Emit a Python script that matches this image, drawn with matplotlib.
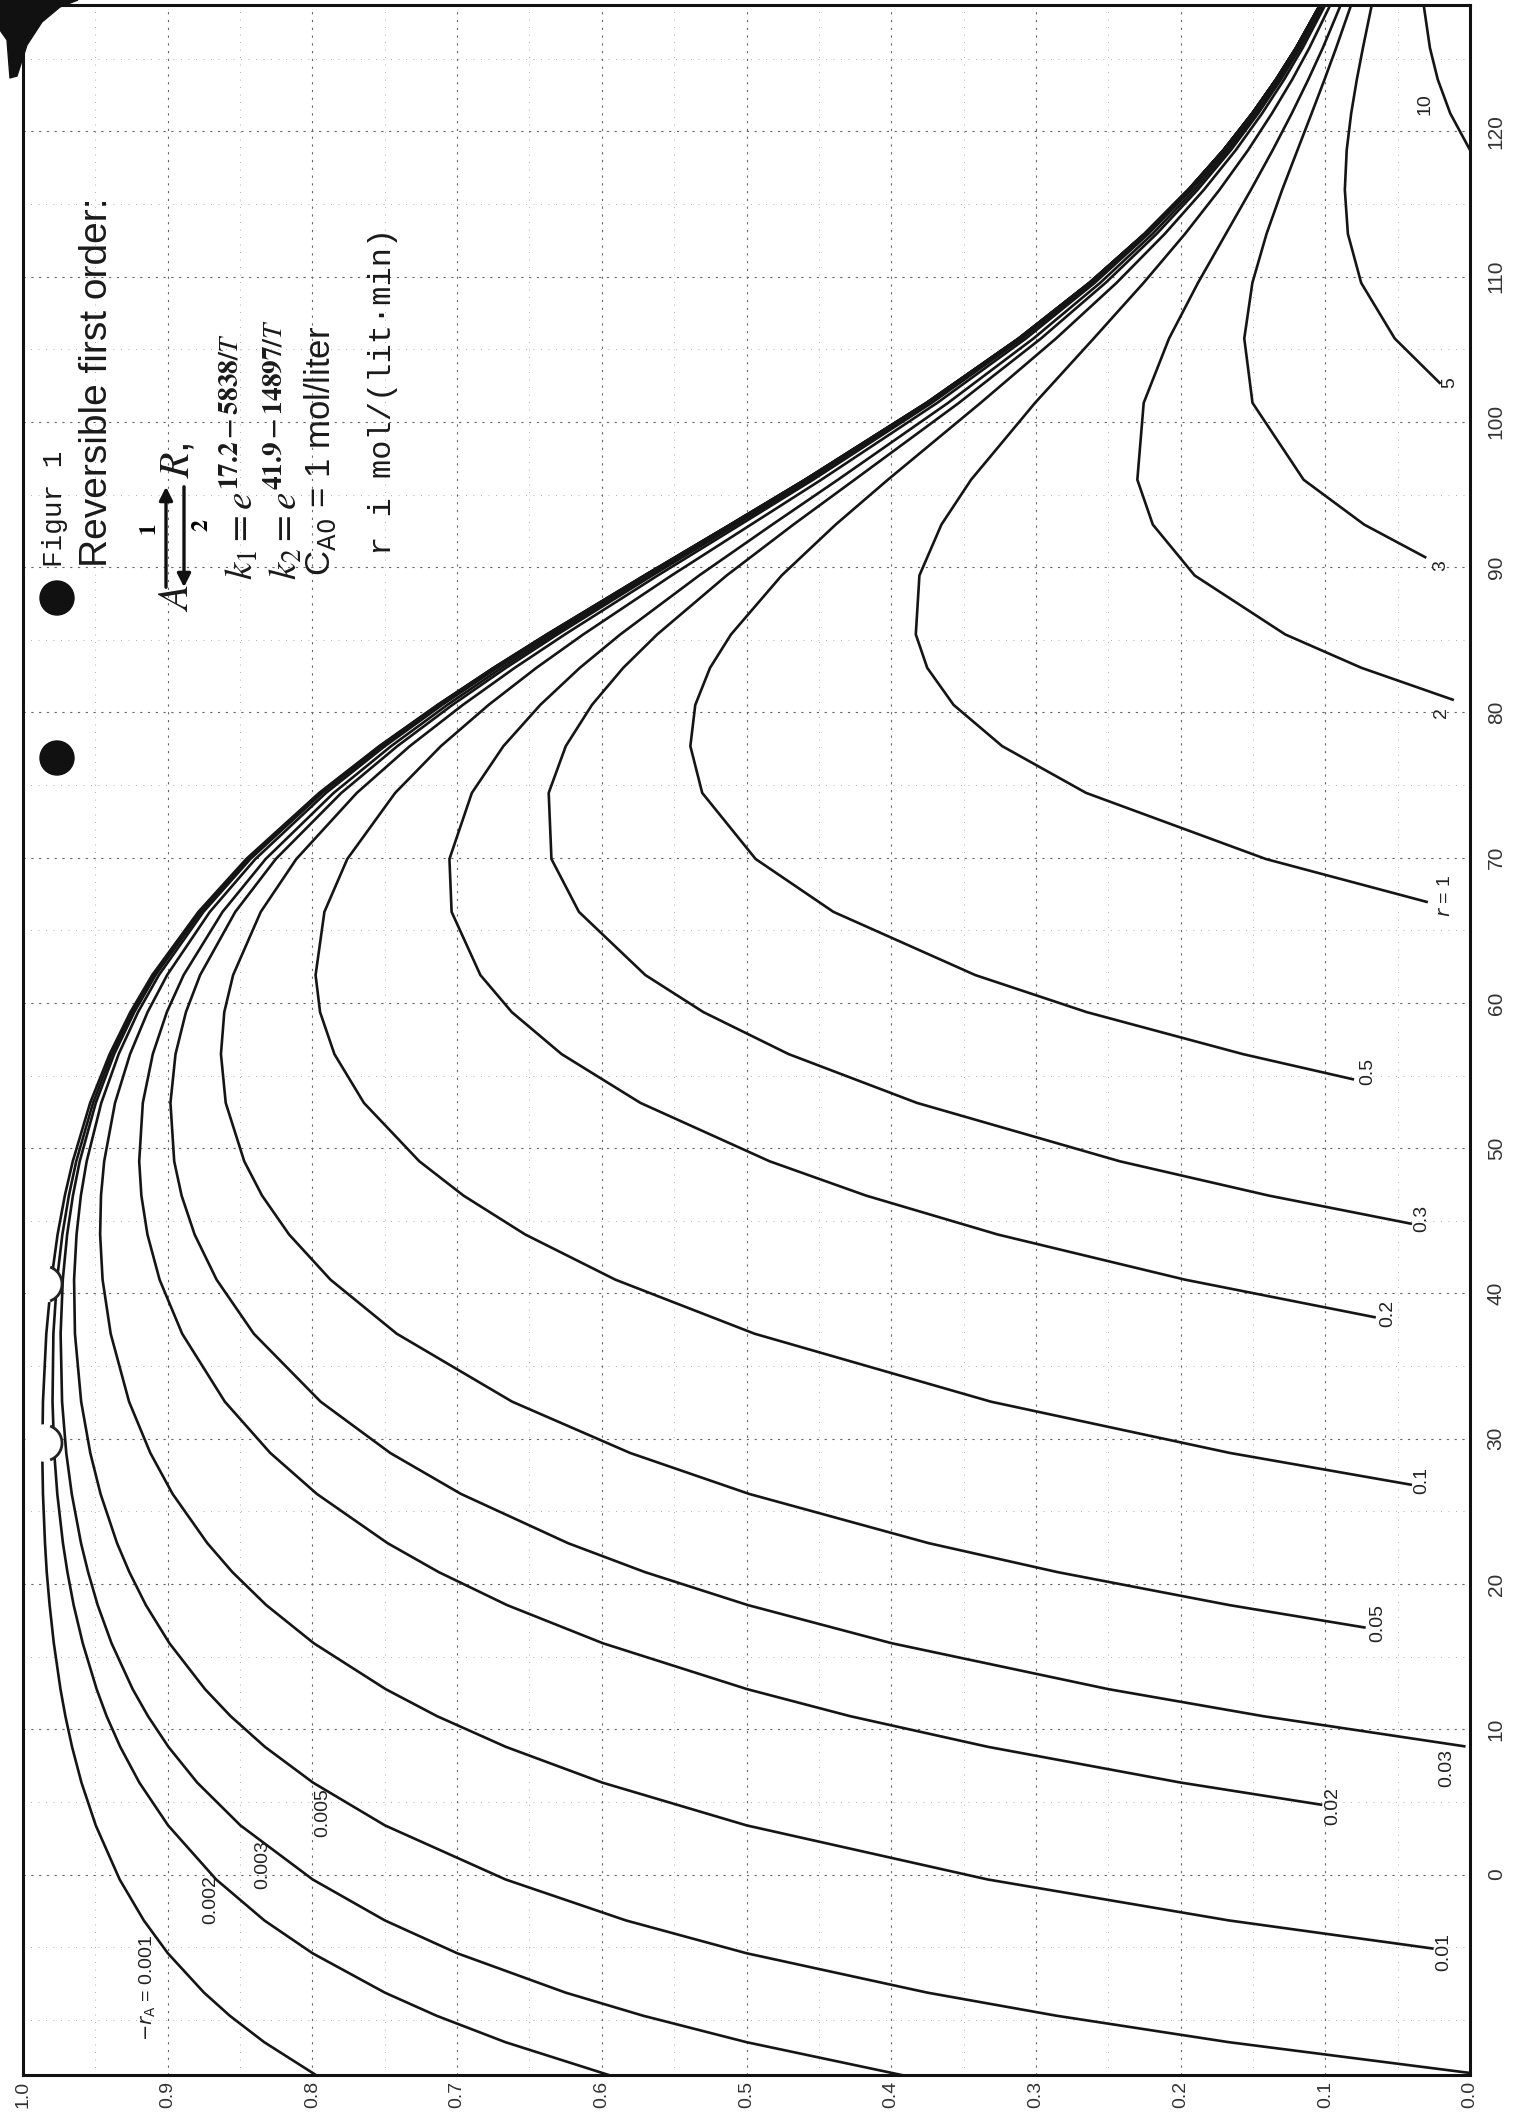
import matplotlib
matplotlib.use("Agg")
import matplotlib.pyplot as plt
from matplotlib.patches import Circle, Polygon, Arc, FancyArrowPatch
from matplotlib.transforms import IdentityTransform

plt.rcParams["font.family"] = ["Liberation Sans", "DejaVu Sans"]
plt.rcParams["mathtext.fontset"] = "stix"

W, H = 1519, 2118

# temperature (deg C) at which the curves were read
temp_grid = [-13.80, -11.54, -9.72, -8.13, -5.42, -3.16, -0.34, 3.38, 6.33, 8.79,
             10.90, 12.76, 15.92, 18.55, 20.82, 22.81, 26.20, 29.02, 32.55, 37.23,
             40.95, 44.06, 46.74, 49.10, 53.12, 56.48, 59.37, 61.92, 66.27, 69.91,
             74.46, 77.68, 80.52, 83.07, 85.37, 89.43, 92.93, 96.02, 101.31, 105.74,
             109.57, 112.95, 115.98, 118.72, 121.25, 123.58, 125.75, 128.69]

# conversion X_A along each -r_A curve (values for the last len(list) temperatures)
conv_0001 = [0.7976, 0.8333, 0.8571, 0.8749, 0.8999, 0.9165, 0.9332, 0.9497, 0.9596, 0.9661,
             0.9707, 0.9741, 0.9787, 0.9816, 0.9836, 0.9848, 0.9862, 0.9867, 0.9862, 0.9839,
             0.9804, 0.9761, 0.9711, 0.9656, 0.9536, 0.9401, 0.9258, 0.9107, 0.8788, 0.8457,
             0.7953, 0.7538, 0.7135, 0.6749, 0.6381, 0.5706, 0.5113, 0.4596, 0.3757, 0.3120,
             0.2631, 0.2249, 0.1947, 0.1703, 0.1504, 0.1340, 0.1202, 0.1037]
conv_0002 = [0.5952, 0.6666, 0.7142, 0.7499, 0.7999, 0.8332, 0.8665, 0.8997, 0.9196, 0.9328,
             0.9422, 0.9491, 0.9587, 0.9650, 0.9693, 0.9724, 0.9763, 0.9784, 0.9796, 0.9790,
             0.9765, 0.9728, 0.9683, 0.9632, 0.9516, 0.9386, 0.9245, 0.9095, 0.8779, 0.8450,
             0.7948, 0.7534, 0.7132, 0.6746, 0.6378, 0.5704, 0.5112, 0.4595, 0.3756, 0.3120,
             0.2631, 0.2249, 0.1947, 0.1703, 0.1504, 0.1340, 0.1202, 0.1037]
conv_0003 = [0.3928, 0.5000, 0.5714, 0.6250, 0.6999, 0.7499, 0.7998, 0.8497, 0.8796, 0.8995,
             0.9136, 0.9242, 0.9388, 0.9484, 0.9550, 0.9599, 0.9663, 0.9701, 0.9730, 0.9740,
             0.9725, 0.9695, 0.9655, 0.9608, 0.9497, 0.9370, 0.9231, 0.9084, 0.8771, 0.8443,
             0.7943, 0.7530, 0.7128, 0.6743, 0.6375, 0.5702, 0.5110, 0.4594, 0.3755, 0.3119,
             0.2630, 0.2249, 0.1946, 0.1703, 0.1504, 0.1340, 0.1202, 0.1037]
conv_0005 = [0.1667, 0.2857, 0.3750, 0.4999, 0.5833, 0.6665, 0.7498, 0.7996, 0.8328, 0.8565,
             0.8742, 0.8988, 0.9151, 0.9265, 0.9350, 0.9464, 0.9535, 0.9598, 0.9641, 0.9647,
             0.9630, 0.9600, 0.9560, 0.9459, 0.9339, 0.9205, 0.9061, 0.8753, 0.8429, 0.7932,
             0.7521, 0.7121, 0.6737, 0.6370, 0.5698, 0.5107, 0.4592, 0.3754, 0.3118, 0.2630,
             0.2248, 0.1946, 0.1702, 0.1504, 0.1339, 0.1202, 0.1037]
conv_001 = [0.1666, 0.3333, 0.4998, 0.5997, 0.6663, 0.7138, 0.7493, 0.7990, 0.8319, 0.8553,
            0.8726, 0.8966, 0.9120, 0.9267, 0.9394, 0.9450, 0.9467, 0.9461, 0.9439, 0.9364,
            0.9260, 0.9139, 0.9004, 0.8709, 0.8394, 0.7906, 0.7499, 0.7103, 0.6722, 0.6358,
            0.5689, 0.5100, 0.4586, 0.3750, 0.3116, 0.2628, 0.2247, 0.1945, 0.1702, 0.1503,
            0.1339, 0.1201, 0.1037]
conv_002 = [0.1999, 0.3331, 0.4283, 0.4995, 0.5992, 0.6655, 0.7127, 0.7480, 0.7969, 0.8291,
            0.8605, 0.8900, 0.9056, 0.9140, 0.9182, 0.9197, 0.9172, 0.9103, 0.9006, 0.8890,
            0.8621, 0.8323, 0.7853, 0.7456, 0.7067, 0.6692, 0.6332, 0.5670, 0.5085, 0.4574,
            0.3743, 0.3110, 0.2624, 0.2244, 0.1943, 0.1700, 0.1502, 0.1338, 0.1200, 0.1036]
conv_003 = [0.1428, 0.2498, 0.3995, 0.4991, 0.5702, 0.6233, 0.6973, 0.7462, 0.7943, 0.8405,
            0.8662, 0.8814, 0.8904, 0.8955, 0.8981, 0.8946, 0.8874, 0.8776, 0.8533, 0.8253,
            0.7800, 0.7413, 0.7032, 0.6662, 0.6307, 0.5651, 0.5071, 0.4563, 0.3735, 0.3105,
            0.2620, 0.2241, 0.1941, 0.1698, 0.1500, 0.1337, 0.1199, 0.1035]
conv_005 = [0.1664, 0.2851, 0.3740, 0.4981, 0.5804, 0.6619, 0.7417, 0.7875, 0.8161, 0.8348,
            0.8471, 0.8599, 0.8632, 0.8609, 0.8548, 0.8357, 0.8111, 0.7693, 0.7327, 0.6960,
            0.6602, 0.6255, 0.5613, 0.5042, 0.4540, 0.3720, 0.3095, 0.2613, 0.2236, 0.1936,
            0.1695, 0.1498, 0.1334, 0.1198, 0.1034]
conv_01 = [0.1658, 0.3310, 0.4944, 0.5906, 0.6529, 0.6956, 0.7261, 0.7644, 0.7848, 0.7947,
           0.7978, 0.7917, 0.7759, 0.7428, 0.7112, 0.6782, 0.6452, 0.6128, 0.5518, 0.4969,
           0.4483, 0.3682, 0.3069, 0.2594, 0.2222, 0.1926, 0.1686, 0.1491, 0.1329, 0.1193,
           0.1030]
conv_02 = [0.1969, 0.3264, 0.4174, 0.4840, 0.5733, 0.6278, 0.6622, 0.6839, 0.7038, 0.7053,
           0.6898, 0.6680, 0.6425, 0.6152, 0.5872, 0.5327, 0.4822, 0.4368, 0.3607, 0.3017,
           0.2556, 0.2193, 0.1904, 0.1669, 0.1477, 0.1318, 0.1184, 0.1023]
conv_03 = [0.1391, 0.2420, 0.3822, 0.4709, 0.5298, 0.5699, 0.6158, 0.6348, 0.6367, 0.6249,
           0.6068, 0.5852, 0.5617, 0.5137, 0.4676, 0.4253, 0.3532, 0.2965, 0.2519, 0.2165,
           0.1882, 0.1652, 0.1463, 0.1306, 0.1174, 0.1016]
conv_05 = [0.1570, 0.2649, 0.3419, 0.4399, 0.4937, 0.5306, 0.5388, 0.5354, 0.5252, 0.5107,
           0.4757, 0.4384, 0.4023, 0.3382, 0.2861, 0.2443, 0.2109, 0.1839, 0.1618, 0.1436,
           0.1284, 0.1156, 0.1001]
conv_1 = [0.1411, 0.2653, 0.3233, 0.3569, 0.3751, 0.3830, 0.3805, 0.3653, 0.3448, 0.3006,
          0.2601, 0.2256, 0.1969, 0.1731, 0.1533, 0.1368, 0.1228, 0.1110, 0.0966]
conv_2 = [0.0750, 0.1277, 0.1903, 0.2192, 0.2299, 0.2255, 0.2080, 0.1880, 0.1687, 0.1514,
          0.1363, 0.1231, 0.1117, 0.1017, 0.0894]
conv_3 = [0.0731, 0.1150, 0.1503, 0.1560, 0.1504, 0.1406, 0.1298, 0.1192, 0.1094, 0.1005,
          0.0925, 0.0822]
conv_5 = [0.0520, 0.0752, 0.0844, 0.0865, 0.0852, 0.0821, 0.0782, 0.0740, 0.0679]
conv_10 = [0.0137, 0.0223, 0.0277, 0.0320]

curve_conv = [conv_0001, conv_0002, conv_0003, conv_0005, conv_001, conv_002, conv_003,
              conv_005, conv_01, conv_02, conv_03, conv_05, conv_1, conv_2, conv_3,
              conv_5, conv_10]

# low-temperature end of each curve (None = curve starts at the bottom edge)
start_temp = [None, None, None, -13.66, -5.09, 4.81, 8.83, 17.01, 26.84, 38.37, 44.81,
              54.75, 66.96, 80.88, 90.69, 102.69, 118.72]
start_conv = [None, None, None, 0.0, 0.026, 0.103, 0.004, 0.073, 0.041, 0.066, 0.041,
              0.081, 0.030, 0.012, 0.031, 0.021, 0.0]

label_text = [r"$-r_{\rm A}$ = 0.001", "0.002", "0.003", "0.005", "0.01", "0.02", "0.03",
              "0.05", "0.1", "0.2", "0.3", "0.5", r"$r$ = 1", "2", "3", "5", "10"]
label_conv = [0.914, 0.870, 0.834, 0.793, 0.018, 0.095, 0.016, 0.064, 0.033, 0.057, 0.033,
              0.071, 0.017, 0.020, 0.020, 0.014, 0.031]
label_temp = [-7.8, -1.7, 0.7, 4.3, -5.3, 4.75, 7.3, 17.3, 27.1, 38.6, 45.2, 55.3, 67.4,
              80.0, 90.1, 102.7, 121.9]

x_ticks = [1.0, 0.9, 0.8, 0.7, 0.6, 0.5, 0.4, 0.3, 0.2, 0.1, 0.0]
t_ticks = [0, 10, 20, 30, 40, 50, 60, 70, 80, 90, 100, 110, 120]

fig = plt.figure(figsize=(W / 100, H / 100), dpi=100)
ax = fig.add_axes([23 / W, 43 / H, 1447 / W, 2070 / H])
ax.set_xlim(1.0, 0.0)
ax.set_ylim(-13.8, 128.7)

for conv, t0, x0 in zip(curve_conv, start_temp, start_conv):
    ts = temp_grid[len(temp_grid) - len(conv):]
    xs = list(conv)
    if t0 is not None:
        ts = [t0] + ts
        xs = [x0] + xs
    ax.plot(xs, ts, color="#151515", lw=1.9, zorder=3)

for txt, xc, tc in zip(label_text, label_conv, label_temp):
    ax.text(xc, tc, txt, rotation=90, ha="center", va="center", fontsize=14,
            color="#222222", math_fontfamily="dejavusans", zorder=4)

# graph paper
ax.set_xticks(x_ticks)
ax.set_xticklabels([f"{v:.1f}" for v in x_ticks], rotation=90, fontsize=14, color="#333333")
ax.set_xticks([0.05 + 0.1 * i for i in range(10)], minor=True)
ax.yaxis.tick_right()
ax.set_yticks(t_ticks)
ax.set_yticklabels([str(v) for v in t_ticks], rotation=90, va="center", fontsize=15,
                   color="#333333")
ax.set_yticks([-10, -5] + [5 + 10 * i for i in range(13)], minor=True)
ax.tick_params(axis="both", which="both", length=0)
ax.tick_params(axis="x", pad=4)
ax.tick_params(axis="y", pad=12)
ax.grid(True, which="major", ls=(0, (2, 5)), color="#666666", lw=0.8, zorder=0)
ax.grid(True, which="minor", ls=(0, (1, 8)), color="#999999", lw=0.6, zorder=0)
for side in ["left", "right", "bottom", "top"]:
    ax.spines[side].set_linewidth(2.2)
    ax.spines[side].set_color("#111111")


def px(x, y):
    return x / W, 1 - y / H


rot = dict(rotation=90, rotation_mode="anchor", ha="left", va="center", color="#1a1a1a")
fig.text(*px(55, 567), "Figur 1", family="Liberation Mono", fontsize=20, **rot)
fig.text(*px(97, 567), "Reversible first order:", fontsize=28, **rot)
fig.text(*px(177, 612), r"$A$", fontsize=30, **rot)
fig.text(*px(177, 478), r"$R$,", fontsize=30, **rot)
fig.text(*px(150, 530), r"$\mathbf{1}$", fontsize=17, rotation=90, ha="center", va="center")
fig.text(*px(202, 525), r"$\mathbf{2}$", fontsize=17, rotation=90, ha="center", va="center")
fig.add_artist(FancyArrowPatch(px(166, 590), px(166, 484), transform=fig.transFigure,
                               arrowstyle="-|>,head_length=8,head_width=4", lw=2.4,
                               color="#111111"))
fig.add_artist(FancyArrowPatch(px(184, 484), px(184, 590), transform=fig.transFigure,
                               arrowstyle="-|>,head_length=8,head_width=4", lw=2.4,
                               color="#111111"))
fig.text(*px(240, 580), r"$k_1 = e^{\mathbf{17.2-5838/}T}$", fontsize=28, **rot)
fig.text(*px(284, 580), r"$k_2 = e^{\mathbf{41.9-14897/}T}$", fontsize=28, **rot)
fig.text(*px(320, 576), r"C$_{\rm A0}$ = 1 mol/liter", fontsize=25,
         math_fontfamily="dejavusans", **rot)
fig.text(*px(383, 555), "r i mol/(lit\u00b7min)", family="Liberation Mono", fontsize=23, **rot)

# scan marks: punch holes and the dark corner
ident = IdentityTransform()
for cy in (598, 758):
    fig.add_artist(Circle((57, H - cy), 17, transform=ident, color="#111111", zorder=10))
for cy in (1284, 1443):
    fig.add_artist(Circle((44, H - cy), 18, transform=ident, color="white", zorder=10))
    fig.add_artist(Arc((44, H - cy), 36, 36, theta1=-70, theta2=70, transform=ident,
                       color="#222222", lw=2, zorder=11))
corner = [(0, 0), (78, 0), (60, 7), (42, 22), (27, 45), (17, 76), (10, 78), (7, 40), (0, 30)]
fig.add_artist(Polygon([(x, H - y) for x, y in corner], closed=True, transform=ident,
                       color="#111111", zorder=10))

fig.savefig("out.png", dpi=100)
